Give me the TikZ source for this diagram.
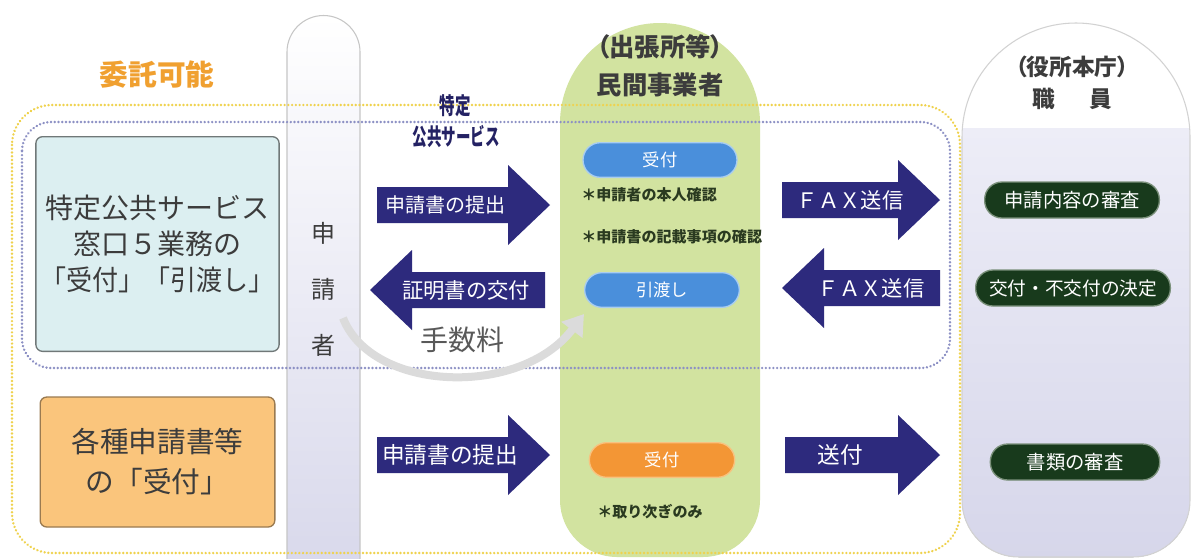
\documentclass[tikz,border=0pt]{standalone}
\usepackage{fontspec}
\setmainfont{Noto Sans CJK JP}
\newfontfamily\jpp[RawFeature=+palt]{Noto Sans CJK JP}
\usetikzlibrary{arrows.meta}
\definecolor{navy}{HTML}{2D2A7D}
\definecolor{txt}{HTML}{3C3C3C}
\definecolor{orangeT}{HTML}{F0A030}
\definecolor{cyanfill}{HTML}{DCEFF1}
\definecolor{cyanline}{HTML}{707878}
\definecolor{orfill}{HTML}{FAC57C}
\definecolor{orline}{HTML}{9A7A50}
\definecolor{greencol}{HTML}{D2E3A0}
\definecolor{bluepill}{HTML}{4A8FDB}
\definecolor{bluepillb}{HTML}{A8CDF0}
\definecolor{darkpill}{HTML}{183A1C}
\definecolor{darkpillb}{HTML}{7A907A}
\definecolor{orpill}{HTML}{F39635}
\definecolor{orpillb}{HTML}{F8C27F}
\definecolor{lavA}{HTML}{EDEDF7}
\definecolor{lavB}{HTML}{D6D6EA}
\definecolor{ydot}{HTML}{EFD24E}
\definecolor{bdot}{HTML}{8C90C4}
\definecolor{notec}{HTML}{2A3A20}
\newcommand\fsz[2]{\fontsize{#1}{#2}\selectfont}
% right-pointing arrow: tail x, tip x, y
\newcommand\myRarrow[3]{\fill[navy] (#1,#3-18) -- (#2-42,#3-18) -- (#2-42,#3-40) -- (#2,#3) -- (#2-42,#3+40) -- (#2-42,#3+18) -- (#1,#3+18) -- cycle;}
% left-pointing arrow: tip x, tail x, y
\newcommand\myLarrow[3]{\fill[navy] (#2,#3-18) -- (#1+42,#3-18) -- (#1+42,#3-40) -- (#1,#3) -- (#1+42,#3+40) -- (#1+42,#3+18) -- (#2,#3+18) -- cycle;}
\newcommand\rightcolpath{(962,500) -- (962,137) arc[start angle=180,end angle=360,radius=114] -- (1190,500) arc[start angle=0,end angle=90,radius=57] -- (1019,557) arc[start angle=90,end angle=180,radius=57] -- cycle}
\tikzset{
  arrtext/.style={text=white, inner sep=0pt},
  pill/.style={rounded corners=13pt, minimum height=26pt, line width=1pt, text=white, inner sep=0pt},
  bpill/.style={pill, fill=bluepill, draw=bluepillb},
  dpill/.style={pill, fill=darkpill, draw=darkpillb, minimum height=27pt},
  opill/.style={pill, fill=orpill, draw=orpillb},
  note/.style={text=notec, inner sep=0pt, font=\bfseries\fsz{11.3pt}{13pt}},
  ydots/.style={draw=ydot, line width=2pt, line cap=round, dash pattern=on 0.01pt off 2.8pt},
  bdots/.style={draw=bdot, line width=2pt, line cap=round, dash pattern=on 0.01pt off 2.8pt},
  hdr/.style={text=txt, align=center, inner sep=0pt},
}
\begin{document}
\begin{tikzpicture}[x=0.75pt,y=-0.75pt]
\clip (0,0) rectangle (1194,558);
\fill[white] (0,0) rectangle (1194,558);

% applicant column
\path[draw=gray!45, line width=0.8pt, top color=white, bottom color=lavB]
  (287,600) -- (287,52) arc[start angle=180,end angle=360,radius=36.5] -- (360,600) -- cycle;

% green column
\fill[greencol] (560,500) -- (560,123) arc[start angle=180,end angle=360,radius=100]
  -- (760,500) arc[start angle=0,end angle=90,radius=57] -- (617,557)
  arc[start angle=90,end angle=180,radius=57] -- cycle;

% right column
\begin{scope}
  \clip \rightcolpath;
  \fill[top color=lavA, bottom color=lavB] (962,128) rectangle (1190,560);
  \fill[white] (962,0) rectangle (1190,128);
\end{scope}
\draw[gray!35, line width=0.8pt] \rightcolpath;

% dotted regions
\draw[ydots, rounded corners=30pt] (12,105) rectangle (960,553);
\draw[bdots, rounded corners=22pt] (22,122) rectangle (950,368);

% headings
\node[text=orangeT, inner sep=0pt, font=\bfseries\fsz{21.5pt}{26pt}] (itaku) at (157,75) {委託可能};
\node[hdr, font=\bfseries\fsz{19pt}{28.5pt}] (hdrA) at (660,66) {{\jpp （出張所等）}\\民間事業者};
\node[hdr, font=\bfseries\fsz{17pt}{24pt}] (hdrB) at (1072,83) {{\jpp （役所本庁）}\\職\hspace{26pt}員};
\node[text=navy!80!black, inner sep=0pt, font=\bfseries\fsz{14.5pt}{16pt}] (tokutei) at (455,106) {\scalebox{0.8}[1.2]{特定}};
\node[text=navy!80!black, inner sep=0pt, font=\bfseries\fsz{14.5pt}{16pt}] (kokyo) at (456,137) {\scalebox{0.75}[1.2]{公共サービス}};

% left boxes
\node[draw=cyanline, fill=cyanfill, line width=1pt, rounded corners=5pt,
  minimum width=176pt, minimum height=161pt, align=center, text=txt,
  font=\fsz{21pt}{27pt}] (svc) at (157.5,244)
  {特定公共サービス\\窓口５業務の\\\scalebox{0.93}[1]{「受付」「引渡し」}};
\node[draw=orline, fill=orfill, line width=1pt, rounded corners=5pt,
  minimum width=176pt, minimum height=97.5pt, align=center, text=txt,
  font=\fsz{21.5pt}{30pt}] (misc) at (157.5,462)
  {各種申請書等\\の「受付」};

% applicant label
\node[text=txt, align=center, inner sep=0pt, font=\fsz{18pt}{42pt}] (appl) at (323,289) {申\\請\\者};

% fee swoosh
\coordinate (feeS) at (343,318);
\coordinate (feeE) at (584,314);
\draw[line width=6pt, draw=gray!28, -{Triangle[length=15pt,width=19pt]}]
  (feeS) .. controls (372,392) and (520,398) .. (feeE);
\node[text=txt!85, inner sep=0pt, font=\fsz{21pt}{24pt}] (fee) at (462,340) {手数料};

% arrows
\myRarrow{377}{550}{205}
\node[arrtext, font=\fsz{15pt}{18pt}] (a1) at (445,205) {申請書の提出};
\myLarrow{370}{545}{290}
\node[arrtext, font=\fsz{16pt}{18pt}] (a2) at (466,290) {証明書の交付};
\myRarrow{782}{940}{200}
\node[arrtext, font=\fsz{16pt}{18pt}] (a3) at (850,200) {ＦＡＸ送信};
\myLarrow{782}{940}{288}
\node[arrtext, font=\fsz{16pt}{18pt}] (a4) at (871,288) {ＦＡＸ送信};
\myRarrow{377}{550}{455}
\node[arrtext, font=\fsz{17pt}{18pt}] (a5) at (450,455) {申請書の提出};
\myRarrow{785}{940}{455}
\node[arrtext, font=\fsz{17pt}{18pt}] (a6) at (840,455) {送付};

% pills in green column
\node[bpill, minimum width=115.5pt, font=\fsz{13pt}{15pt}] (uke1) at (660,160) {受付};
\node[note, anchor=west] (n1) at (581,195) {＊申請者の本人確認};
\node[note, anchor=west] (n2) at (581,237) {＊申請書の記載事項の確認};
\node[bpill, minimum width=116pt, font=\fsz{13pt}{15pt}] (hiki) at (662,290) {引渡し};
\node[opill, minimum width=109pt, font=\fsz{13pt}{15pt}] (uke2) at (662,460) {受付};
\node[note] (n3) at (650,512) {＊取り次ぎのみ};

% pills in right column
\node[dpill, minimum width=131pt, font=\fsz{14.5pt}{16pt}] (shin) at (1072,200) {申請内容の審査};
\node[dpill, minimum width=146pt, font=\fsz{14pt}{16pt}] (kofu) at (1073,288) {交付・不交付の決定};
\node[dpill, minimum width=127pt, font=\fsz{14.5pt}{16pt}] (shorui) at (1075,462) {書類の審査};
\end{tikzpicture}
\end{document}
